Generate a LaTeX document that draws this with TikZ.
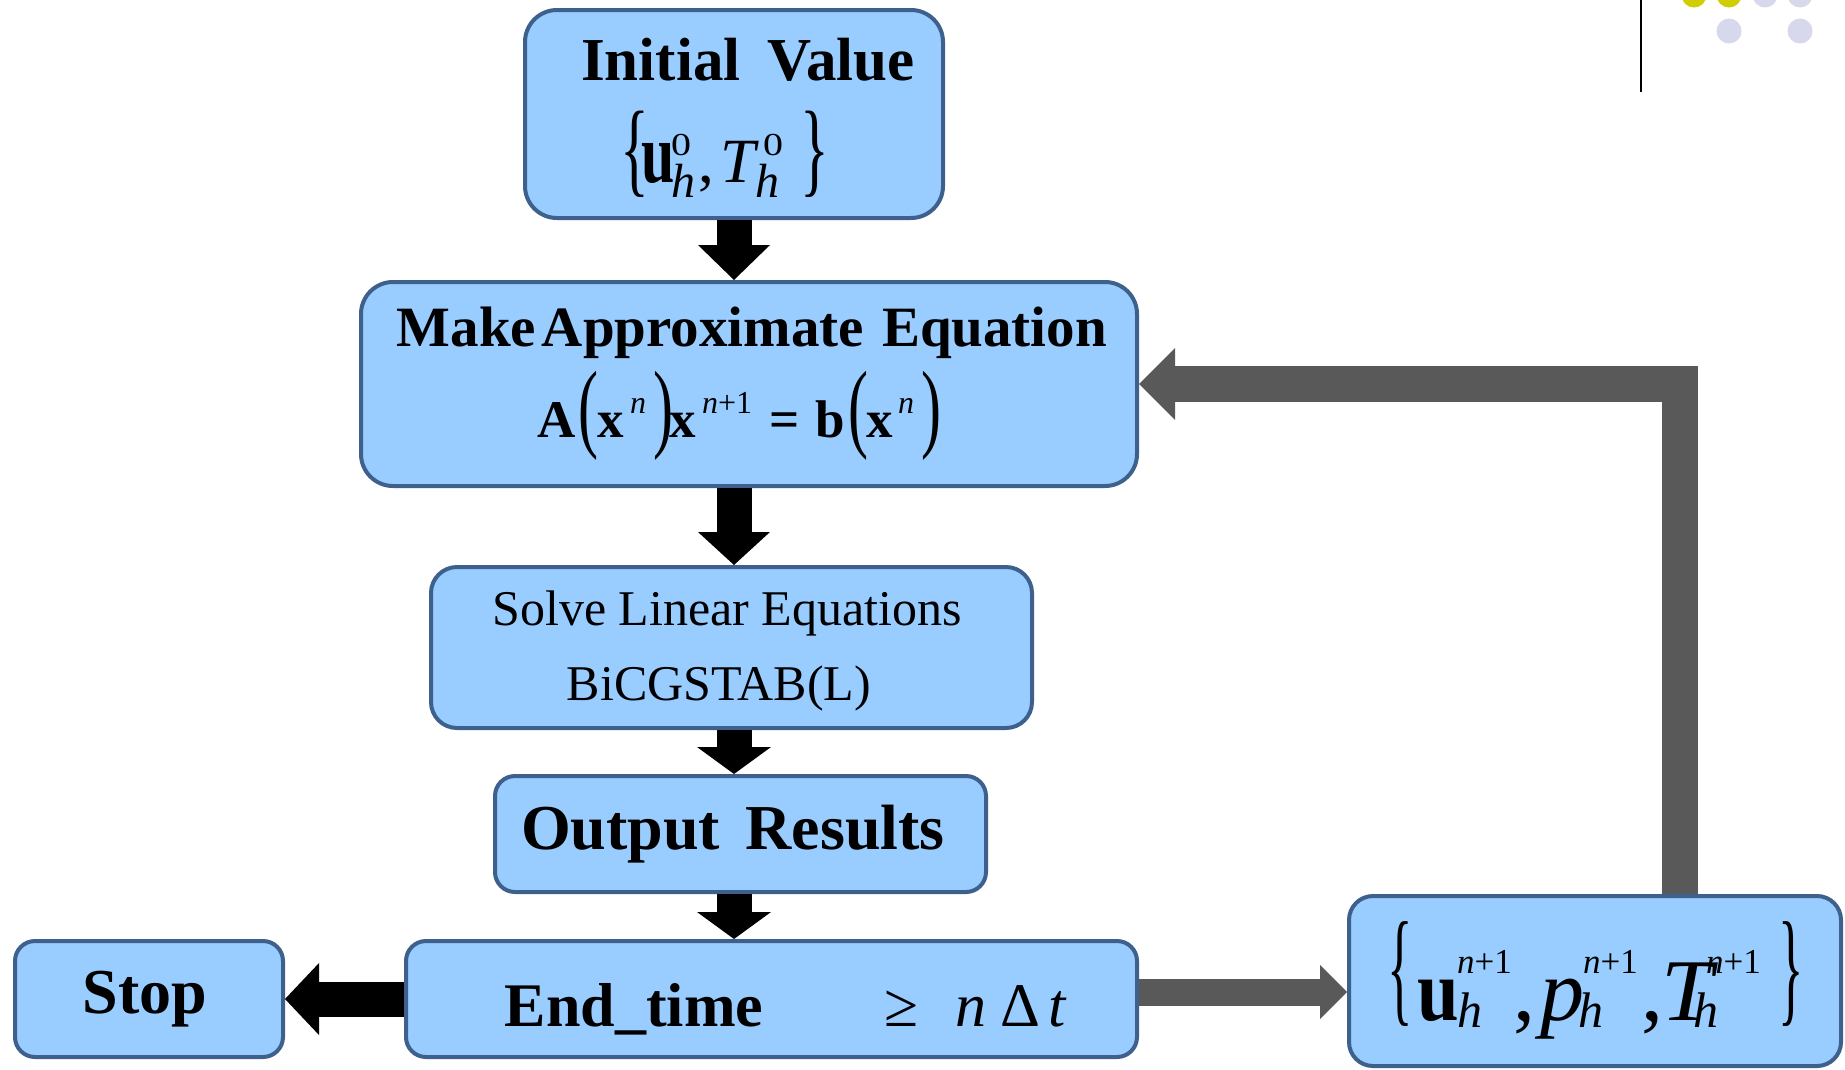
\documentclass[tikz,border=0pt]{standalone}
\usepackage{fontspec}
\setmainfont{Liberation Serif}[ItalicFont={Liberation Serif Italic}, BoldFont={Liberation Serif Bold}, BoldItalicFont={Liberation Serif Bold Italic}]
\usepackage{graphicx}
\usetikzlibrary{arrows.meta}
\definecolor{boxfill}{RGB}{153,204,255}
\definecolor{boxline}{RGB}{61,96,140}
\definecolor{arrgray}{RGB}{89,89,89}
\definecolor{dotyellow}{RGB}{208,206,0}
\definecolor{dotlav}{RGB}{216,216,236}
\newcommand{\fsz}[1]{\fontsize{#1}{#1}\selectfont}
\newcommand{\putat}[2]{\rlap{\kern#1\relax #2}}
\newcommand{\vglyph}[4]{\raisebox{#4}{\scalebox{1}[#3]{\fsz{#2}\normalfont #1}}}
\tikzset{
  box/.style={draw=boxline, fill=boxfill, line width=4pt, inner sep=0pt, rectangle},
  txt/.style={inner sep=0pt, outer sep=0pt, text=black},
  darrow/.style={draw=black, line width=35pt},
  garrow/.style={draw=arrgray, line width=27pt},
}
\begin{document}
\begin{tikzpicture}[x=1pt,y=-1pt]
\useasboundingbox (0,0) rectangle (1845,1069);
\fill[white] (0,0) rectangle (1845,1069);

% decoration top right
\draw[line width=2.5pt] (1641,0) -- (1641,92);
\fill[dotyellow] (1694,-5) circle[radius=12.5pt];
\fill[dotyellow] (1729,-5) circle[radius=12.5pt];
\fill[dotlav] (1765,-5) circle[radius=12.5pt];
\fill[dotlav] (1800,-5) circle[radius=12.5pt];
\fill[dotlav] (1729,31) circle[radius=12.5pt];
\fill[dotlav] (1800,31) circle[radius=12.5pt];

% boxes
\node[box, minimum width=418pt, minimum height=208pt, rounded corners=32pt] (iv) at (734,114) {};
\node[box, minimum width=776pt, minimum height=204pt, rounded corners=32pt] (ma) at (749,384) {};
\node[box, minimum width=601pt, minimum height=161pt, rounded corners=26pt] (sl) at (731.5,647.5) {};
\node[box, minimum width=491pt, minimum height=116pt, rounded corners=20pt] (or) at (740.5,834) {};
\node[box, minimum width=731pt, minimum height=116pt, rounded corners=20pt] (et) at (771.5,999) {};
\node[box, minimum width=268pt, minimum height=116pt, rounded corners=20pt] (st) at (149,999) {};
\node[box, minimum width=492pt, minimum height=170pt, rounded corners=24pt] (res) at (1595,981) {};

% texts
\node[txt, anchor=base] (ivT) at (748,80) {\fsz{61}\bfseries Initial\hspace{0.45em}Value};
\node[txt, anchor=base west] (ivF) at (620,182) {%
  \putat{0pt}{\vglyph{\{}{60}{1.74}{-1pt}}%
  \putat{21pt}{\scalebox{0.95}[1.35]{\fsz{63}\bfseries u}}%
  \putat{51pt}{\raisebox{27pt}{\scalebox{1.25}[1]{\fsz{32}0}}}%
  \putat{51pt}{\raisebox{-15pt}{\fsz{48}\itshape h}}%
  \putat{78pt}{\fsz{63},}%
  \putat{100pt}{\fsz{63}\itshape T}%
  \putat{143pt}{\raisebox{27pt}{\scalebox{1.25}[1]{\fsz{32}0}}}%
  \putat{135pt}{\raisebox{-15pt}{\fsz{48}\itshape h}}%
  \putat{180pt}{\vglyph{\}}{60}{1.74}{-1pt}}%
  \hspace*{210pt}};

\node[txt, anchor=base] (maT) at (752,346) {\fsz{57}\bfseries Make\hspace{0.1em}Approximate\hspace{0.32em}Equation};
\node[txt, anchor=base west] (maF) at (536,437) {%
  \putat{1pt}{\fsz{53}\bfseries A}%
  \putat{42pt}{\vglyph{(}{60}{1.64}{-2.5pt}}%
  \putat{61pt}{\fsz{53}\bfseries x}%
  \putat{94pt}{\raisebox{24pt}{\fsz{32}\itshape n}}%
  \putat{117pt}{\vglyph{)}{60}{1.64}{-2.5pt}}%
  \putat{133pt}{\fsz{53}\bfseries x}%
  \putat{166pt}{\raisebox{24pt}{\fsz{32}\itshape n\normalfont +1}}%
  \putat{233pt}{\fsz{53}\bfseries =}%
  \putat{280pt}{\fsz{53}\bfseries b}%
  \putat{312pt}{\vglyph{(}{60}{1.64}{-2.5pt}}%
  \putat{330pt}{\fsz{53}\bfseries x}%
  \putat{362pt}{\raisebox{24pt}{\fsz{32}\itshape n}}%
  \putat{385pt}{\vglyph{)}{60}{1.64}{-2.5pt}}%
  \hspace*{410pt}};

\node[txt, anchor=base] (slT) at (727,625) {\fsz{50}Solve Linear Equations};
\node[txt, anchor=base] (slB) at (719,700) {\fsz{50}BiCGSTAB(L)};

\node[txt, anchor=base] (orT) at (733,849) {\fsz{64}\bfseries Output\hspace{0.4em}Results};

\node[txt, anchor=base] (stT) at (145,1013) {\fsz{64}\bfseries Stop};
\node[txt, anchor=base] (etT) at (634,1026) {\fsz{62}\bfseries End\_time};
\node[txt, anchor=base west] (etF) at (884,1026) {%
  \putat{0pt}{\fsz{62}≥}%
  \putat{71pt}{\fsz{62}\itshape n}%
  \putat{116pt}{\fsz{62}Δ}%
  \putat{164pt}{\fsz{62}\itshape t}%
  \hspace*{190pt}};

\node[txt, anchor=base west] (resF) at (1386,1020) {%
  \putat{1pt}{\vglyph{\{}{53}{2.39}{10.3pt}}%
  \putat{31pt}{\scalebox{0.85}[1]{\fsz{88}\bfseries u}}%
  \putat{71pt}{\raisebox{47pt}{\fsz{35}\itshape n\normalfont +1}}%
  \putat{71pt}{\raisebox{-7pt}{\fsz{50}\itshape h}}%
  \putat{127pt}{\fsz{88},}%
  \putat{154pt}{\fsz{88}\itshape p}%
  \putat{197pt}{\raisebox{47pt}{\fsz{35}\itshape n\normalfont +1}}%
  \putat{192pt}{\raisebox{-7pt}{\fsz{50}\itshape h}}%
  \putat{255pt}{\fsz{88},}%
  \putat{275pt}{\scalebox{1.05}[1]{\fsz{88}\itshape T}}%
  \putat{320pt}{\raisebox{47pt}{\fsz{35}\itshape n\normalfont +1}}%
  \putat{307pt}{\raisebox{-7pt}{\fsz{50}\itshape h}}%
  \putat{392pt}{\vglyph{\}}{53}{2.39}{10.3pt}}%
  \hspace*{420pt}};

% connectors
\coordinate (col) at (734,0);
\coordinate (fbx) at (1680,0);
\coordinate (ey) at (0,992);
\draw[darrow, -{Triangle[width=72pt,length=35pt,line width=0pt]}] (iv.south -| col) -- (ma.north -| col);
\draw[darrow, -{Triangle[width=72pt,length=33pt,line width=0pt]}] (ma.south -| col) -- (sl.north -| col);
\draw[darrow, -{Triangle[width=74pt,length=27pt,line width=0pt]}] (sl.south -| col) -- (or.north -| col);
\draw[darrow, -{Triangle[width=74pt,length=27pt,line width=0pt]}] (or.south -| col) -- (et.north -| col);
\draw[darrow, -{Triangle[width=72pt,length=34pt,line width=0pt]}] (et.west) -- (st.east);
\draw[garrow, -{Triangle[width=54pt,length=27pt,line width=0pt]}] (et.east |- ey) -- (res.west |- ey);
\draw[garrow, line width=36pt, -{Triangle[width=72pt,length=36pt,line width=0pt]}] (res.north -| fbx) |- (ma.east);
\end{tikzpicture}
\end{document}
